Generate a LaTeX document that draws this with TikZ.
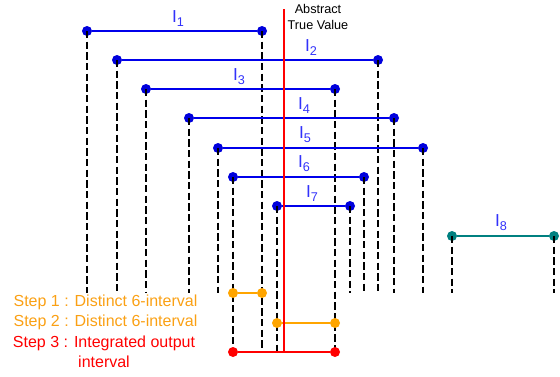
\documentclass[tikz,border=0pt]{standalone}
\usepackage{fontspec}
\setmainfont{Liberation Sans}
\definecolor{ivblue}{RGB}{0,0,235}
\definecolor{dotblue}{RGB}{0,0,220}
\definecolor{lblblue}{RGB}{50,50,250}
\definecolor{ivorange}{RGB}{255,165,0}
\definecolor{txtorange}{RGB}{250,160,20}
\definecolor{ivteal}{RGB}{0,128,128}
\definecolor{ivred}{RGB}{255,0,0}
\newcommand{\ivsub}[1]{\raisebox{-3pt}{\fontsize{9.5}{11}\selectfont #1}}
\begin{document}
\begin{tikzpicture}[x=0.75pt,y=-0.75pt,
  dotnode/.style={circle,fill=#1,draw=none,inner sep=0pt,minimum size=7.5pt},
  ivline/.style={draw=ivblue,line width=1.6pt},
  dline/.style={draw=black,line width=2.2pt,dash pattern=on 5.4pt off 2.6pt},
  ivlabel/.style={text=lblblue,font=\fontsize{13}{15}\selectfont,inner sep=0pt},
  steptext/.style={font=\fontsize{12}{15}\selectfont,inner sep=0pt,align=center}]
\useasboundingbox (0,0) rectangle (560,376);
% bottom ends of the dashed lines
\foreach \n/\xa/\ya/\xb/\yb in {1/87/293/262/348,2/117/293/378/293,3/146/293/335/352,4/189/293/394/293,5/218/293/423/293,6/233/352/364/293,7/277/352/350/293,8/452/293/554/293}{
  \coordinate (ea\n) at (\xa,\ya);
  \coordinate (eb\n) at (\xb,\yb);
}
% interval end points
\foreach \n/\xa/\xb/\y in {1/87/262/31,2/117/378/60,3/146/335/89,4/189/394/118,5/218/423/148,6/233/364/177,7/277/350/206}{
  \node[dotnode=dotblue] (a\n) at (\xa,\y) {};
  \node[dotnode=dotblue] (b\n) at (\xb,\y) {};
}
\node[dotnode=ivteal] (a8) at (452,236) {};
\node[dotnode=ivteal] (b8) at (554,236) {};
% dashed projections
\foreach \n in {1,...,8}{
  \draw[dline] (a\n.center) -- (ea\n);
  \draw[dline] (b\n.center) -- (eb\n);
}
% intervals
\foreach \n in {1,...,7}{
  \draw[ivline] (a\n) -- (b\n);
}
\draw[draw=ivteal,line width=1.6pt] (a8) -- (b8);
% labels
\node[ivlabel] (l1) at (178,19) {I\ivsub{1}};
\node[ivlabel] (l2) at (311,48) {I\ivsub{2}};
\node[ivlabel] (l3) at (239,77) {I\ivsub{3}};
\node[ivlabel] (l4) at (304,106) {I\ivsub{4}};
\node[ivlabel] (l5) at (305,135) {I\ivsub{5}};
\node[ivlabel] (l6) at (304,164) {I\ivsub{6}};
\node[ivlabel] (l7) at (312,194) {I\ivsub{7}};
\node[ivlabel] (l8) at (501,223) {I\ivsub{8}};
% steps
\node[dotnode=ivorange] (s1a) at (233,293) {};
\node[dotnode=ivorange] (s1b) at (262,293) {};
\draw[draw=ivorange,line width=1.6pt] (s1a) -- (s1b);
\node[dotnode=ivorange] (s2a) at (277,323) {};
\node[dotnode=ivorange] (s2b) at (335,323) {};
\draw[draw=ivorange,line width=1.6pt] (s2a) -- (s2b);
\node[dotnode=ivred] (s3a) at (233,352) {};
\node[dotnode=ivred] (s3b) at (335,352) {};
\draw[draw=ivred,line width=1.6pt] (s3a) -- (s3b);
% true value
\coordinate (tvtop) at (284,9);
\coordinate (tvbot) at (284,352);
\draw[draw=ivred,line width=1pt] (tvtop) -- (tvbot);
\node[font=\fontsize{9.5}{11.5}\selectfont,align=center,inner sep=0pt] (tv) at (318,17) {Abstract\\True Value};
% step texts
\node[steptext,text=txtorange] (t1) at (105.5,302) {Step 1 : Distinct 6-interval};
\node[steptext,text=txtorange] (t2) at (105.5,322) {Step 2 : Distinct 6-interval};
\node[steptext,text=ivred] (t3) at (104,351.5) {Step 3 : Integrated output\\interval};
\end{tikzpicture}
\end{document}
